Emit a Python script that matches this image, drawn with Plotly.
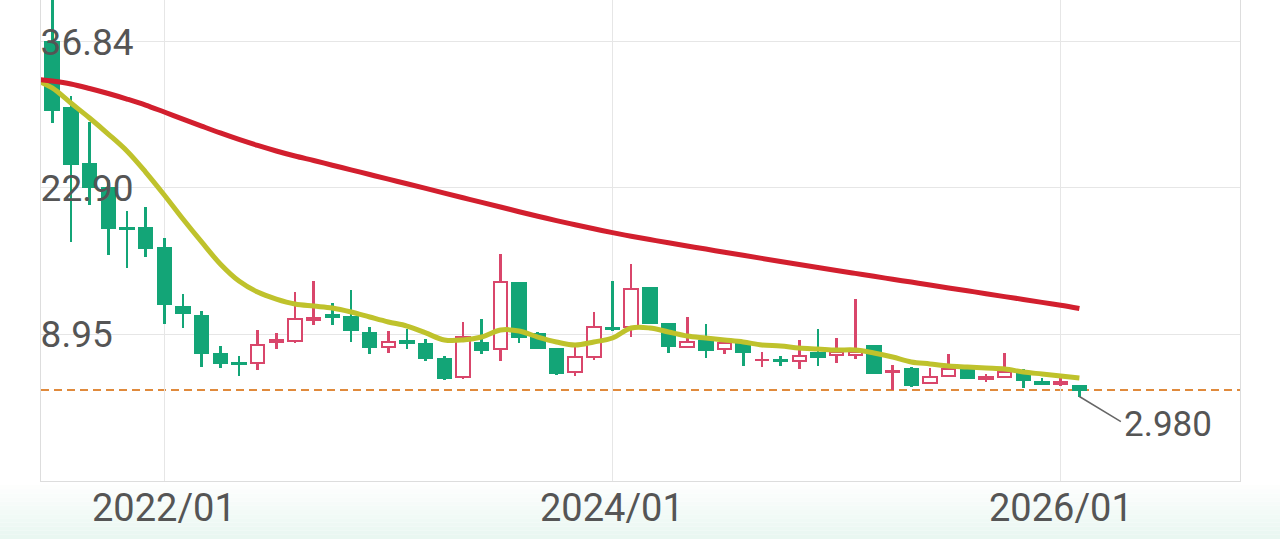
import plotly.graph_objects as go
import pandas as pd

# ---------------- data ----------------
months = list(pd.date_range("2021-07-01", periods=56, freq="MS").strftime("%Y/%m"))

opens = [36.84, 30.53, 25.19, 22.89, 19.10, 19.07, 17.16, 11.53, 10.67, 7.04,
         6.18, 6.18, 8.19, 8.28, 10.29, 10.76, 10.57, 9.05, 7.71, 8.28,
         7.99, 6.56, 4.84, 8.09, 7.52, 13.82, 8.95, 7.52, 5.32, 6.75,
         9.52, 9.62, 13.34, 9.91, 7.71, 8.28, 7.52, 7.99, 6.42, 6.47,
         6.37, 7.14, 6.94, 6.94, 7.80, 5.32, 5.61, 4.27, 4.94, 5.51,
         4.70, 4.84, 5.13, 4.37, 4.18, 3.98]
highs = [41.33, 31.68, 29.20, 23.66, 20.70, 21.08, 18.12, 12.77, 11.15, 7.80,
         6.85, 9.33, 9.05, 12.96, 14.01, 11.91, 13.15, 9.62, 9.24, 9.43,
         8.47, 6.85, 10.10, 10.38, 16.59, 13.90, 9.14, 7.55, 7.71, 11.05,
         14.01, 15.64, 13.44, 9.95, 10.57, 9.91, 8.19, 8.05, 7.23, 6.85,
         8.38, 9.43, 8.57, 12.29, 7.85, 5.99, 5.80, 5.70, 7.04, 5.55,
         5.13, 7.14, 5.61, 4.75, 4.75, 4.00]
lows = [29.10, 17.74, 21.27, 16.50, 15.25, 16.30, 9.91, 9.52, 5.80, 5.70,
        4.94, 5.51, 7.52, 8.09, 9.81, 9.81, 8.19, 7.04, 7.14, 7.52,
        6.37, 4.56, 4.65, 7.04, 6.37, 8.09, 7.52, 5.03, 4.94, 6.47,
        9.24, 8.66, 9.95, 7.14, 7.68, 6.66, 7.04, 5.89, 5.80, 5.89,
        5.61, 5.89, 6.18, 6.56, 5.20, 3.60, 3.89, 4.20, 4.84, 4.70,
        4.37, 4.80, 3.79, 4.15, 3.98, 2.98]
closes = [30.34, 25.19, 22.99, 19.07, 19.00, 17.16, 11.82, 10.96, 7.14, 6.18,
          6.09, 7.90, 8.38, 10.38, 10.48, 10.57, 9.33, 7.71, 8.19, 8.09,
          6.66, 4.75, 8.66, 7.42, 13.92, 8.66, 7.61, 5.23, 6.75, 9.62,
          9.43, 13.25, 10.00, 7.80, 8.19, 7.42, 8.09, 7.23, 6.51, 6.37,
          6.85, 6.75, 7.23, 7.23, 5.23, 5.42, 4.08, 4.84, 5.61, 4.75,
          4.80, 5.32, 4.56, 4.18, 4.37, 3.60]

ma_months = ["2021/06"] + months
ma_short = [33.31, 32.45, 31.01, 29.58, 28.05, 26.43, 24.42, 22.23, 19.93, 17.74,
            15.64, 14.01, 12.96, 12.29, 11.82, 11.62, 11.43, 11.05, 10.57, 10.10,
            9.71, 9.05, 8.38, 8.38, 8.66, 9.33, 9.24, 8.66, 8.19, 7.90,
            8.19, 8.57, 9.52, 9.52, 9.14, 8.76, 8.57, 8.38, 8.19, 7.90,
            7.80, 7.61, 7.52, 7.42, 7.42, 7.14, 6.75, 6.28, 6.09, 5.89,
            5.80, 5.70, 5.61, 5.32, 5.13, 4.94, 4.75]
ma_long = [33.31, 33.11, 32.83, 32.40, 31.92, 31.39, 30.82, 30.15, 29.48, 28.81,
           28.15, 27.53, 26.96, 26.43, 25.95, 25.52, 25.07, 24.63, 24.18, 23.74,
           23.30, 22.86, 22.41, 21.96, 21.52, 21.08, 20.63, 20.20, 19.78, 19.38,
           19.00, 18.63, 18.29, 17.97, 17.66, 17.35, 17.06, 16.76, 16.47, 16.17,
           15.87, 15.59, 15.30, 15.01, 14.74, 14.46, 14.18, 13.91, 13.63, 13.35,
           13.08, 12.80, 12.52, 12.25, 11.97, 11.69, 11.38]

y_tick_vals = [8.95, 22.90, 36.84]
y_tick_text = ["8.95", "22.90", "36.84"]
x_tick_labels = ["2022/01", "2024/01", "2026/01"]
low_label = "2.980"

# ---------------- helpers ----------------
def pos(m):
    y, mo = m.split("/")
    return (int(y) - 2021) * 12 + int(mo) - 7

x_c = [pos(m) for m in months]
x_ma = [pos(m) for m in ma_months]

GREEN = "#13a577"
RED = "#d9466b"
TXT = "#555555"
FONT = "Roboto"

up = [c >= o for o, c in zip(opens, closes)]
col = [RED if u else GREEN for u in up]
body_base = [min(o, c) for o, c in zip(opens, closes)]
body_h = [max(abs(c - o), 0.06) for o, c in zip(opens, closes)]
wick_h = [h - l for h, l in zip(highs, lows)]

fig = go.Figure()
# wicks
fig.add_trace(go.Bar(x=x_c, y=wick_h, base=lows, width=0.14,
                     marker=dict(color=col, line=dict(width=0)),
                     showlegend=False, hoverinfo="skip"))
# bodies
fig.add_trace(go.Bar(x=x_c, y=body_h, base=body_base, width=0.72,
                     marker=dict(color=["white" if u else GREEN for u in up],
                                 line=dict(color=col, width=2)),
                     showlegend=False, hoverinfo="skip"))
fig.add_trace(go.Scatter(x=x_ma, y=ma_short, mode="lines",
                         line=dict(color="#bfc22c", width=5, shape="spline"),
                         showlegend=False, hoverinfo="skip"))
fig.add_trace(go.Scatter(x=x_ma, y=ma_long, mode="lines",
                         line=dict(color="#d21f2e", width=5, shape="spline"),
                         showlegend=False, hoverinfo="skip"))

# current price dashed line
fig.add_shape(type="line", xref="paper", x0=0, x1=1, yref="y",
              y0=closes[-1], y1=closes[-1],
              line=dict(color="#e08a3c", width=2, dash="8px,5px"), layer="below")

# lowest-low marker
i_low = lows.index(min(lows))
fig.add_annotation(x=x_c[i_low], y=lows[i_low], text="", showarrow=True,
                   arrowhead=0, arrowwidth=1.5, arrowcolor="#666666",
                   ax=43, ay=26, standoff=0)
fig.add_annotation(x=x_c[i_low], y=lows[i_low], text=low_label, showarrow=False,
                   xanchor="left", yanchor="middle", xshift=43, yshift=-28,
                   font=dict(family=FONT, size=35, color=TXT))

# x tick labels
for t in x_tick_labels:
    fig.add_annotation(x=pos(t), y=0, xref="x", yref="paper", text=t,
                       showarrow=False, xanchor="center", yanchor="middle",
                       yshift=-27, font=dict(family=FONT, size=38, color=TXT))

# soft gradient background below plot
n = 14
for k in range(n):
    t = k / (n - 1)
    r = int(255 - t * (255 - 233))
    g = int(255 - t * (255 - 247))
    b = int(255 - t * (255 - 241))
    fig.add_shape(type="rect", xref="paper", yref="paper", x0=-0.05, x1=1.05,
                  y0=-(58 / 481) * (k + 1) / n, y1=-(58 / 481) * k / n,
                  fillcolor=f"rgb({r},{g},{b})", line=dict(width=0), layer="below")

fig.update_layout(
    width=1280, height=539,
    margin=dict(l=41, r=40, t=0, b=58),
    paper_bgcolor="white", plot_bgcolor="white",
    font=dict(family=FONT, color=TXT),
    barmode="overlay", bargap=0,
    xaxis=dict(range=[-0.6, 63.6], tickmode="array",
               tickvals=[pos(t) for t in x_tick_labels], showticklabels=False,
               showgrid=True, gridcolor="#e6e6e6", gridwidth=1,
               showline=True, linecolor="#dddddd", linewidth=1,
               zeroline=False, ticks="", fixedrange=True),
    yaxis=dict(range=[-5.09, 40.85], tickmode="array",
               tickvals=y_tick_vals, ticktext=y_tick_text,
               ticklabelposition="inside", ticklabelstandoff=4,
               showgrid=True, gridcolor="#e6e6e6",
               showline=True, mirror=True, linecolor="#dddddd", linewidth=1,
               zeroline=False, ticks="",
               tickfont=dict(family=FONT, size=37, color=TXT), fixedrange=True),
)

fig.write_html("out.html", config={"displayModeBar": False},
               post_script="document.body.style.margin='0';")
